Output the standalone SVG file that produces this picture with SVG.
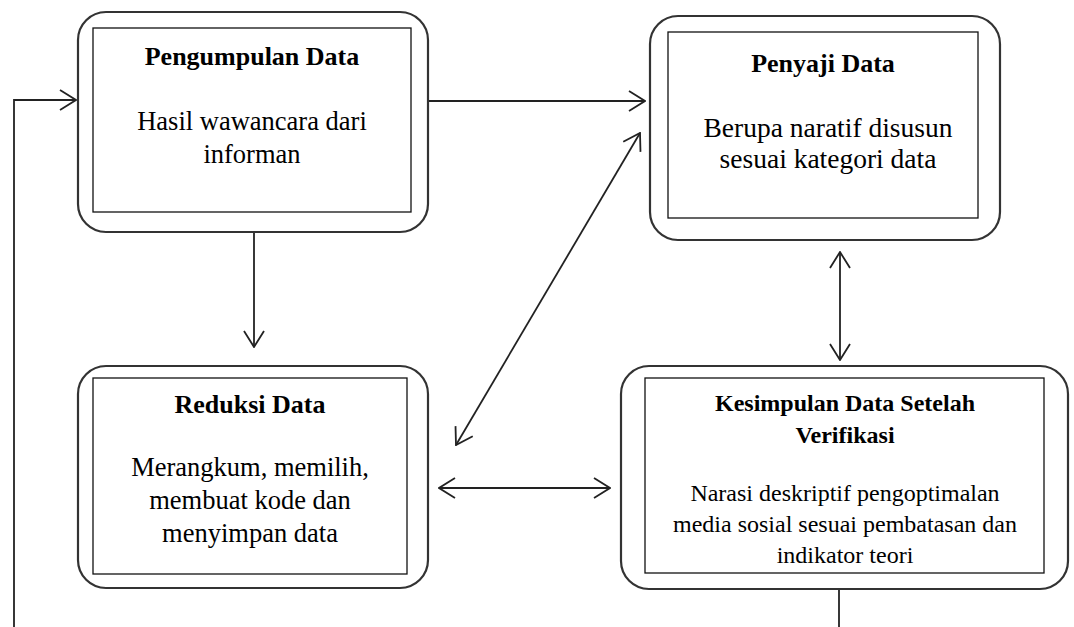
<svg xmlns="http://www.w3.org/2000/svg" width="1074" height="627" viewBox="0 0 1074 627">
<style>
.outer{fill:#fff;stroke:#333;stroke-width:2.2}
.inner{fill:none;stroke:#111;stroke-width:1.3}
.t{font-family:"Liberation Serif","Times New Roman",serif;fill:#000;text-anchor:middle}
.h{font-weight:bold;font-size:26px}
.b{font-size:26.5px}
.b2{font-size:27.5px}
.h4{font-weight:bold;font-size:24px}
.b4{font-size:24px}
.c{fill:none;stroke:#222;stroke-width:1.8}
</style>
<defs>
<marker id="ah" viewBox="0 0 18 22" refX="17" refY="11" markerWidth="18" markerHeight="22" markerUnits="userSpaceOnUse" orient="auto-start-reverse">
<path d="M1,1 L17,11 L1,21" fill="none" stroke="#222" stroke-width="1.8"/>
</marker>
</defs>
<rect width="1074" height="627" fill="#fff"/>
<g id="connectors">
<polyline class="c" points="14,627 14,100 76,100" marker-end="url(#ah)"/>
<line class="c" x1="839" y1="589" x2="839" y2="627"/>
<line class="c" x1="428" y1="101" x2="645" y2="101" marker-end="url(#ah)"/>
<line class="c" x1="254" y1="232" x2="254" y2="347" marker-end="url(#ah)"/>
<line class="c" x1="456" y1="445" x2="640" y2="133" marker-start="url(#ah)" marker-end="url(#ah)"/>
<line class="c" x1="840" y1="252" x2="840" y2="360" marker-start="url(#ah)" marker-end="url(#ah)"/>
<line class="c" x1="439" y1="488" x2="610" y2="488" marker-start="url(#ah)" marker-end="url(#ah)"/>
</g>
<g id="pengumpulan">
<rect class="outer" x="78" y="12" width="350" height="220" rx="28"/>
<rect class="inner" x="93" y="28" width="318" height="184"/>
<text class="t h" x="252" y="65">Pengumpulan Data</text>
<text class="t b" x="252" y="130">Hasil wawancara dari</text>
<text class="t b" x="252" y="163">informan</text>
</g>
<g id="penyaji">
<rect class="outer" x="650" y="16" width="350" height="224" rx="28"/>
<rect class="inner" x="668" y="32" width="310" height="186"/>
<text class="t h" x="823" y="72">Penyaji Data</text>
<text class="t b2" x="828" y="137">Berupa naratif disusun</text>
<text class="t b2" x="828" y="168">sesuai kategori data</text>
</g>
<g id="reduksi">
<rect class="outer" x="78" y="366" width="350" height="222" rx="28"/>
<rect class="inner" x="93" y="378" width="314" height="196"/>
<text class="t h" x="250" y="413">Reduksi Data</text>
<text class="t b" x="250" y="476">Merangkum, memilih,</text>
<text class="t b" x="250" y="509">membuat kode dan</text>
<text class="t b" x="250" y="542">menyimpan data</text>
</g>
<g id="kesimpulan">
<rect class="outer" x="621" y="366" width="447" height="223" rx="28"/>
<rect class="inner" x="645" y="378" width="399" height="195"/>
<text class="t h4" x="845" y="411">Kesimpulan Data Setelah</text>
<text class="t h4" x="845" y="443">Verifikasi</text>
<text class="t b4" x="845" y="501">Narasi deskriptif pengoptimalan</text>
<text class="t b4" x="845" y="532">media sosial sesuai pembatasan dan</text>
<text class="t b4" x="845" y="563">indikator teori</text>
</g>
</svg>
